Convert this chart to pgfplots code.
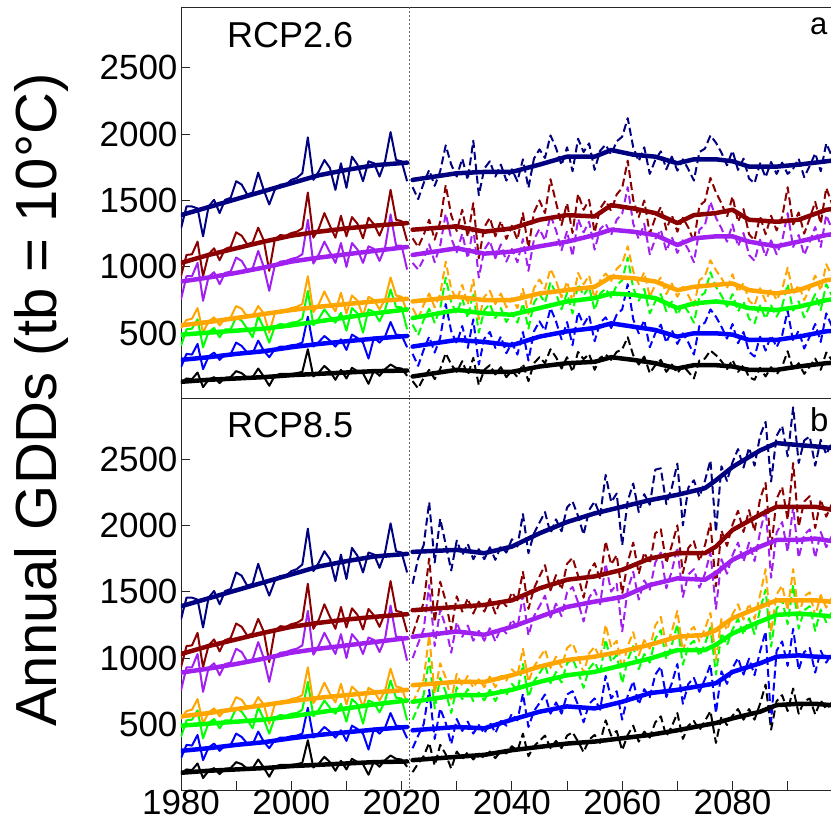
\documentclass[border=0pt]{standalone}
\usepackage{fontspec}
\setmainfont{Liberation Sans}
\usepackage{pgfplots}
\usepackage{pgfplotstable}
\pgfplotsset{compat=1.18}

\definecolor{cN}{RGB}{0,0,128}
\definecolor{cR}{RGB}{139,0,0}
\definecolor{cP}{RGB}{160,32,240}
\definecolor{cO}{RGB}{255,165,0}
\definecolor{cG}{RGB}{0,255,0}
\definecolor{cB}{RGB}{0,0,255}
\definecolor{cK}{RGB}{0,0,0}

% historical annual (same in both panels)
\pgfplotstableread{
year K B G O P R N
1980 130 245 405 540 755 930 1290
1981 160 345 530 600 930 1090 1455
1982 155 340 535 610 930 1095 1455
1983 205 420 605 690 1030 1190 1440
1984 95 230 395 505 745 930 1230
1985 150 325 510 590 925 1095 1455
1986 170 355 540 620 960 1140 1505
1987 125 300 470 560 870 1050 1405
1988 165 340 530 610 955 1135 1505
1989 170 345 530 620 965 1150 1520
1990 215 430 620 705 1070 1260 1645
1991 200 405 595 685 1045 1235 1620
1992 165 355 535 625 975 1170 1545
1993 170 350 470 630 990 1185 1560
1994 235 445 630 705 1120 1295 1710
1995 175 370 540 650 1000 1200 1580
1996 105 320 430 505 820 970 1470
1997 180 380 550 650 1010 1205 1580
1998 195 400 570 670 1040 1240 1620
1999 195 400 565 675 1045 1235 1620
2000 195 410 580 690 1060 1255 1655
2001 200 415 585 700 1070 1265 1670
2002 210 430 610 720 1095 1290 1705
2003 380 625 820 930 1355 1560 1975
2004 175 400 560 660 1025 1220 1655
2005 205 435 610 720 1095 1290 1720
2006 255 480 680 815 1190 1405 1805
2007 215 445 625 730 1110 1310 1745
2008 150 400 580 665 1030 1220 1580
2009 225 455 655 805 1180 1385 1780
2010 160 375 520 650 1000 1230 1595
2011 240 490 690 785 1180 1375 1830
2012 215 465 650 745 1130 1325 1770
2013 200 430 505 630 1030 1215 1645
2014 120 310 680 775 1155 1370 1795
2015 220 470 660 750 1135 1320 1780
2016 180 430 590 680 1045 1235 1680
2017 230 475 675 755 1145 1340 1795
2018 265 585 830 920 1395 1580 2015
2019 240 490 700 785 1160 1355 1805
2020 235 485 695 775 1160 1345 1795
2021 180 395 530 660 980 1195 1645
}\histA

% historical smoothed
\pgfplotstableread{
year K B G O P R N
1980 135 300 490 560 890 1030 1390
1985 150 320 505 585 920 1090 1450
1990 160 345 520 615 955 1140 1510
1995 170 365 535 645 995 1190 1570
2000 185 395 560 675 1040 1235 1630
2005 195 420 590 700 1070 1265 1690
2010 205 440 620 720 1095 1290 1730
2015 215 460 650 740 1120 1310 1765
2021 220 480 680 760 1150 1330 1785
}\histS

% RCP2.6 annual
\pgfplotstableread{
year K B G O P R N
2022 140 345 565 690 1030 1215 1600
2023 85 255 485 610 980 1150 1510
2024 165 375 600 715 1060 1240 1630
2025 225 475 685 800 1170 1355 1730
2026 155 355 580 695 1035 1205 1610
2027 230 465 685 795 1160 1340 1720
2028 350 720 920 1040 1400 1615 1915
2029 265 515 730 835 1215 1390 1770
2030 210 425 650 750 1110 1270 1680
2031 290 555 765 865 1250 1430 1815
2032 185 390 615 715 1065 1225 1655
2033 315 605 805 905 1295 1480 1950
2034 110 265 505 605 920 1065 1540
2035 225 460 675 775 1130 1300 1740
2036 260 510 720 820 1195 1370 1795
2037 190 390 615 720 1065 1230 1680
2038 245 475 690 800 1170 1345 1770
2039 170 350 585 695 1040 1210 1650
2040 220 430 655 765 1135 1310 1735
2041 170 340 580 690 1035 1205 1645
2042 270 510 725 835 1210 1405 1810
2043 140 295 535 645 970 1140 1595
2044 275 515 730 840 1205 1410 1815
2045 320 590 795 905 1285 1500 1885
2046 275 520 730 835 1200 1405 1820
2047 380 690 885 985 1390 1660 1990
2048 320 590 800 895 1275 1485 1895
2049 235 455 680 770 1125 1315 1765
2050 320 585 805 890 1270 1480 1900
2051 210 410 650 735 1080 1255 1720
2052 360 660 870 955 1360 1550 1965
2053 305 565 785 870 1260 1430 1865
2054 345 635 850 935 1340 1505 1930
2055 225 440 675 760 1130 1260 1730
2056 315 580 800 900 1285 1440 1875
2057 340 620 835 950 1325 1500 1920
2058 300 540 770 895 1240 1420 1845
2059 360 640 860 985 1355 1545 1945
2060 380 680 900 1025 1400 1595 1980
2061 470 870 1070 1155 1600 1800 2120
2062 335 605 840 965 1325 1505 1900
2063 265 500 745 870 1210 1375 1795
2064 325 600 835 960 1325 1500 1900
2065 200 395 650 775 1095 1250 1700
2066 260 500 740 865 1210 1370 1805
2067 300 565 795 920 1280 1450 1870
2068 210 430 665 795 1120 1280 1735
2069 265 525 740 875 1225 1390 1830
2070 200 420 640 775 1105 1265 1725
2071 255 500 720 850 1200 1370 1810
2072 210 430 660 785 1130 1295 1735
2073 160 340 580 705 1035 1190 1650
2074 295 555 775 900 1280 1460 1865
2075 310 580 805 930 1315 1495 1890
2076 370 680 960 1050 1490 1670 1990
2077 335 625 850 975 1370 1560 1935
2078 290 550 785 915 1290 1480 1860
2079 230 460 700 840 1190 1375 1765
2080 300 570 795 945 1320 1530 1875
2081 210 425 665 810 1155 1340 1730
2082 260 510 740 880 1255 1435 1815
2083 170 360 610 745 1090 1245 1665
2084 150 325 575 710 1045 1200 1630
2085 240 475 710 840 1205 1380 1780
2086 175 370 610 740 1080 1245 1675
2087 245 485 710 835 1200 1385 1790
2088 190 395 625 750 1095 1275 1700
2089 250 485 705 830 1195 1375 1785
2090 365 670 870 995 1405 1600 1700
2091 225 440 670 795 1150 1320 1740
2092 275 520 740 865 1240 1410 1815
2093 195 385 620 750 1090 1250 1675
2094 250 475 705 840 1190 1365 1760
2095 310 570 795 935 1300 1490 1855
2096 225 435 675 820 1150 1325 1720
2097 355 650 870 1020 1390 1595 1930
2098 300 555 785 935 1285 1480 1835
2099 265 495 735 885 1220 1405 1780
}\futA

% RCP2.6 smoothed
\pgfplotstableread{
year K B G O P R N
2022 175 400 615 740 1090 1280 1655
2030 225 450 675 775 1140 1305 1705
2035 210 435 650 750 1100 1265 1715
2040 210 410 640 750 1115 1290 1715
2045 250 475 690 800 1155 1355 1770
2050 275 515 740 825 1190 1390 1830
2055 285 540 765 850 1240 1380 1830
2058 320 575 800 925 1280 1465 1880
2062 300 550 790 915 1265 1440 1845
2066 275 525 765 890 1240 1405 1830
2070 235 475 690 825 1165 1330 1780
2073 260 500 725 850 1215 1390 1810
2077 260 500 740 865 1230 1405 1810
2080 250 490 725 875 1230 1430 1795
2083 225 450 690 825 1190 1355 1755
2088 225 450 675 800 1155 1340 1755
2092 250 475 700 825 1190 1355 1770
2097 275 515 750 900 1240 1430 1795
2099 280 520 760 910 1250 1440 1805
}\futAS

% RCP8.5 annual
\pgfplotstableread{
year K B G O P R N
2022 140 320 535 660 1000 1180 1560
2023 205 415 630 755 1110 1305 1750
2024 260 500 720 840 1215 1415 1850
2025 360 760 1000 1170 1550 1750 2175
2026 190 390 620 730 1090 1270 1720
2027 345 620 850 960 1365 1575 2050
2028 275 510 745 850 1235 1430 1855
2029 165 350 585 690 1040 1210 1660
2030 295 540 780 880 1270 1465 1885
2031 240 450 690 790 1160 1350 1775
2032 290 520 765 865 1245 1450 1860
2033 235 430 675 775 1130 1335 1745
2034 280 495 740 840 1205 1425 1820
2035 245 430 680 780 1130 1350 1745
2036 295 515 760 860 1225 1445 1835
2037 245 435 675 780 1125 1335 1740
2038 300 525 760 865 1230 1440 1840
2039 280 490 720 830 1185 1390 1795
2040 335 580 805 915 1290 1495 1895
2041 300 530 755 870 1230 1435 1840
2042 430 730 955 1070 1470 1650 2085
2043 260 480 705 820 1170 1370 1790
2044 335 600 825 935 1315 1525 1940
2045 375 660 885 1000 1390 1615 2020
2046 415 725 950 1065 1470 1700 2100
2047 320 580 810 925 1305 1510 1940
2048 375 665 895 1010 1410 1625 2045
2049 320 580 815 930 1315 1515 1955
2050 415 725 960 1075 1495 1710 2135
2051 440 750 995 1110 1535 1755 2180
2052 370 645 895 1010 1420 1620 2070
2053 290 515 775 890 1275 1455 1930
2054 385 655 920 1035 1455 1650 2115
2055 420 695 970 1085 1515 1715 2180
2056 360 610 880 995 1405 1595 2075
2057 530 865 1140 1250 1710 1880 2380
2058 415 695 970 1080 1500 1705 2175
2059 450 750 1025 1130 1560 1775 2240
2060 305 535 810 915 1200 1485 1850
2061 420 715 985 1090 1515 1720 2185
2062 490 825 1090 1195 1650 1870 2315
2063 370 650 915 1020 1440 1635 2100
2064 445 765 1030 1135 1585 1795 2235
2065 400 705 965 1070 1515 1710 2155
2066 515 875 1145 1245 1720 1940 2420
2067 560 935 1210 1310 1795 1970 2430
2068 410 705 990 1090 1525 1715 2160
2069 485 810 1100 1200 1655 1850 2285
2070 585 955 1255 1355 1835 2000 2465
2071 390 655 950 1050 1460 1640 2000
2072 490 805 1090 1195 1630 1830 2285
2073 525 850 1130 1235 1670 1880 2340
2074 455 745 1015 1125 1530 1730 2215
2075 525 840 1105 1220 1635 1850 2335
2076 600 950 1230 1340 1795 2015 2490
2077 360 585 875 985 1370 1540 1950
2078 560 900 1190 1300 1745 1960 2445
2079 495 805 1095 1210 1635 1845 2335
2080 565 925 1215 1330 1775 2005 2475
2081 615 1000 1295 1405 1870 2110 2575
2082 535 875 1175 1290 1725 1950 2435
2083 615 995 1300 1410 1870 2115 2585
2084 535 870 1180 1295 1730 1955 2450
2085 655 1050 1365 1475 1950 2200 2675
2086 800 1200 1515 1670 2125 2320 2780
2087 460 520 1085 1195 1605 1820 2330
2088 675 1055 1370 1480 1945 2200 2675
2089 720 1125 1440 1545 2025 2290 2750
2090 600 940 1255 1360 1800 2040 2520
2091 770 1220 1550 1670 2140 2470 2890
2092 580 910 1220 1320 1755 1990 2470
2093 675 1045 1360 1465 1930 2180 2640
2094 695 1075 1390 1495 1970 2220 2670
2095 575 890 1205 1315 1755 1980 2450
2096 680 1055 1365 1475 1950 2195 2645
2097 615 965 1270 1380 1835 2065 2535
2098 665 1035 1345 1455 1920 2160 2620
2099 580 915 1220 1330 1765 1990 2470
}\futB

% RCP8.5 smoothed
\pgfplotstableread{
year K B G O P R N
2022 230 455 670 795 1160 1360 1800
2030 255 480 720 820 1200 1385 1815
2035 270 470 720 820 1175 1400 1790
2040 305 535 760 870 1235 1435 1840
2045 330 595 820 935 1310 1525 1940
2050 355 635 870 985 1385 1590 2025
2055 370 620 895 1010 1425 1615 2090
2060 395 670 945 1050 1460 1665 2140
2065 420 735 995 1100 1550 1750 2190
2070 455 760 1060 1160 1600 1790 2230
2075 495 795 1060 1175 1590 1790 2280
2077 510 810 1100 1210 1640 1840 2340
2080 545 895 1185 1300 1740 1965 2440
2085 595 960 1275 1385 1840 2080 2565
2088 645 1010 1325 1435 1890 2140 2620
2092 655 1020 1335 1435 1890 2140 2605
2095 655 1010 1325 1435 1900 2140 2595
2099 640 1005 1310 1420 1875 2110 2580
}\futBS

\pgfplotsset{
  thinl/.style={line width=2pt, line join=round, mark=none},
  thickl/.style={line width=4.5pt, line join=round, line cap=round, mark=none},
  dashl/.style={dash pattern=on 8pt off 4pt},
  gdd/.style={
    scale only axis, width=661.8pt,
    xmin=1980, xmax=2100,
    axis line style={black!85, line width=0.9pt},
    tick style={black!85, line width=0.9pt},
    tick align=inside, major tick length=9pt,
    tick pos=left,
    ytick={500,1000,1500,2000,2500},
    tick label style={font=\fontsize{35}{40}\selectfont},
    /pgf/number format/assume math mode=true,
    /pgf/number format/1000 sep={},
    xticklabel style={yshift=3pt},
  },
}

\newcommand{\thinset}[2]{%
  \addplot[cK,thinl,#2] table[x=year,y=K]{#1};
  \addplot[cB,thinl,#2] table[x=year,y=B]{#1};
  \addplot[cG,thinl,#2] table[x=year,y=G]{#1};
  \addplot[cO,thinl,#2] table[x=year,y=O]{#1};
  \addplot[cP,thinl,#2] table[x=year,y=P]{#1};
  \addplot[cR,thinl,#2] table[x=year,y=R]{#1};
  \addplot[cN,thinl,#2] table[x=year,y=N]{#1};
}
\newcommand{\thickset}[1]{%
  \addplot[cK,thickl] table[x=year,y=K]{#1};
  \addplot[cB,thickl] table[x=year,y=B]{#1};
  \addplot[cG,thickl] table[x=year,y=G]{#1};
  \addplot[cO,thickl] table[x=year,y=O]{#1};
  \addplot[cP,thickl] table[x=year,y=P]{#1};
  \addplot[cR,thickl] table[x=year,y=R]{#1};
  \addplot[cN,thickl] table[x=year,y=N]{#1};
}

\begin{document}
\begin{tikzpicture}
\useasboundingbox (-181pt,-38pt) rectangle (650pt,790pt);

% bottom panel: RCP8.5
\begin{axis}[gdd, at={(0pt,0pt)}, anchor=south west,
  height=392pt, ymin=5, ymax=2960,
  xtick={1980,1990,2000,2010,2020,2030,2040,2050,2060,2070,2080,2090},
  xticklabels={1980,,2000,,2020,,2040,,2060,,2080,}]
  \addplot[black!60, line width=0.9pt, dash pattern=on 2pt off 2pt] coordinates {(2021.4,-100) (2021.4,3100)};
  \thinset{\histA}{}
  \thinset{\futB}{dashl}
  \thickset{\histS}
  \thickset{\futBS}
\end{axis}

% top panel: RCP2.6
\begin{axis}[gdd, at={(0pt,392pt)}, anchor=south west,
  height=390.5pt, ymin=13, ymax=2953, xtick=\empty]
  \addplot[black!60, line width=0.9pt, dash pattern=on 2pt off 2pt] coordinates {(2021.4,-100) (2021.4,3100)};
  \thinset{\histA}{}
  \thinset{\futA}{dashl}
  \thickset{\histS}
  \thickset{\futAS}
\end{axis}

\node[anchor=base west, inner sep=0pt, font=\fontsize{36}{40}\selectfont] at (46pt,742pt) {RCP2.6};
\node[anchor=base west, inner sep=0pt, font=\fontsize{36}{40}\selectfont] at (46pt,352pt) {RCP8.5};
\node[anchor=base west, inner sep=0pt, font=\fontsize{31}{36}\selectfont] at (629pt,755pt) {a};
\node[anchor=base west, inner sep=0pt, font=\fontsize{33}{38}\selectfont] at (629pt,358pt) {b};
\node[rotate=90, anchor=base, inner sep=0pt, font=\fontsize{58}{64}\selectfont] at (-124pt,390pt) {Annual GDDs (tb = 10°C)};
\end{tikzpicture}
\end{document}
